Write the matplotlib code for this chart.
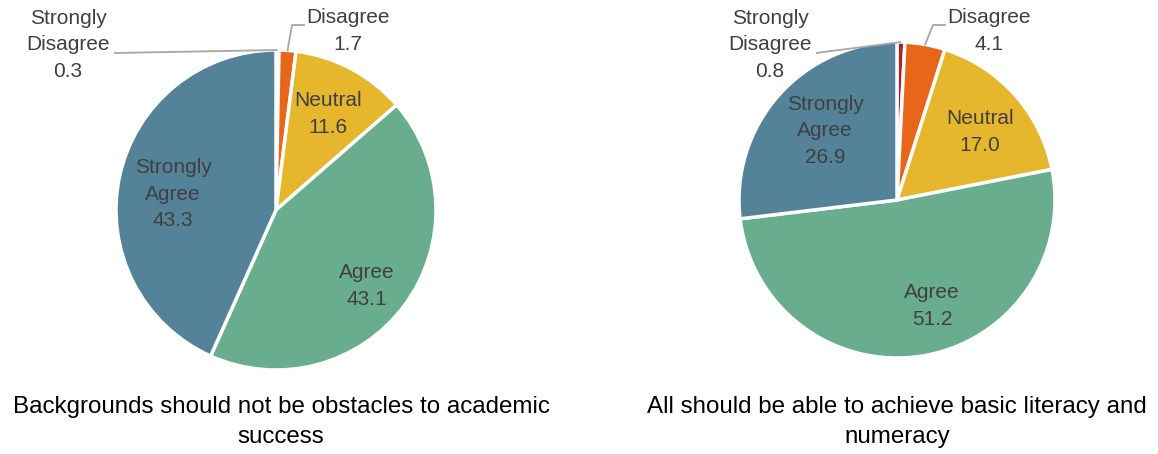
import matplotlib
matplotlib.use("Agg")
from matplotlib import pyplot as plt
import numpy as np

plt.rcParams['font.family'] = ['Liberation Sans Narrow', 'Liberation Sans', 'DejaVu Sans']

categories = ["Strongly Disagree", "Disagree", "Neutral", "Agree", "Strongly Agree"]
colors = ["#B81D24", "#E8661A", "#E6B72D", "#69AD8F", "#548399"]

left_values = [0.3, 1.7, 11.6, 43.1, 43.3]
right_values = [0.8, 4.1, 17.0, 51.2, 26.9]

left_title = "Backgrounds should not be obstacles to academic\nsuccess"
right_title = "All should be able to achieve basic literacy and\nnumeracy"

# label positions in figure pixels (y measured from the top), by category
left_label_pos = [(68, 45), (348, 31), (328, 114), (367, 286), (173, 194)]
right_label_pos = [(770, 45), (989, 31), (980, 132), (932, 306), (825, 131)]

W, H = 1158, 454
TXT = "#404040"
LINE = "#A6A6A6"


def wedge_point(center, radius, values, idx):
    # point on the rim at the middle of wedge idx (clockwise from 12 o'clock)
    total = sum(values)
    before = sum(values[:idx])
    ang = np.deg2rad(90 - (before + values[idx] / 2) / total * 360)
    return center[0] + radius * np.cos(ang), center[1] + radius * np.sin(ang)


def draw_pie(ax, values, center, radius, label_pos, title, title_x):
    ax.pie(values, colors=colors, startangle=90, counterclock=False,
           center=center, radius=radius,
           wedgeprops=dict(edgecolor="white", linewidth=2.5))

    for i, (name, val) in enumerate(zip(categories, values)):
        x, y = label_pos[i]
        y = H - y
        if name == "Strongly Disagree":
            text = "Strongly\nDisagree\n%.1f" % val
        elif name == "Strongly Agree":
            text = "Strongly\nAgree\n%.1f" % val
        else:
            text = "%s\n%.1f" % (name, val)
        ax.text(x, y, text, ha="center", va="center", color=TXT,
                fontsize=15, linespacing=1.5)

    # leader lines for the two thin slices
    px, py = wedge_point(center, radius, values, 0)
    sx, sy = label_pos[0][0] + 46, H - label_pos[0][1] - 8
    ax.plot([sx, px], [sy, py], color=LINE, lw=1.3, solid_capstyle="butt")

    px, py = wedge_point(center, radius, values, 1)
    dx, dy = label_pos[1][0] - 44, H - label_pos[1][1] + 6
    ax.plot([dx, dx - 12, px], [dy, dy, py], color=LINE, lw=1.3)

    ax.text(title_x, H - 422, title, ha="center", va="center",
            color="black", fontsize=17.4, linespacing=1.52)


fig = plt.figure(figsize=(W / 100, H / 100), dpi=100)
ax = fig.add_axes([0, 0, 1, 1])

draw_pie(ax, left_values, (276, H - 210), 160, left_label_pos, left_title, 281)
draw_pie(ax, right_values, (897, H - 200), 158, right_label_pos, right_title, 897)

ax.set_xlim(0, W)
ax.set_ylim(0, H)
ax.set_aspect("equal")
ax.axis("off")

fig.savefig("out.png", dpi=100)
